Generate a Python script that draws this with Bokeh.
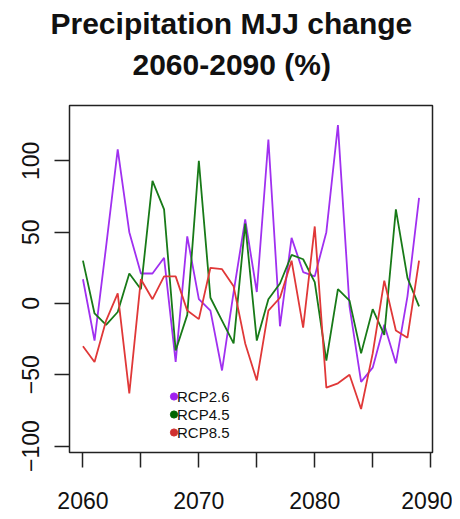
from bokeh.plotting import figure
from bokeh.models import Range1d, FixedTicker, Legend, LegendItem, Title
from bokeh.embed import file_html
from bokeh.resources import INLINE

# ---- data ----
years = list(range(2060, 2090))
rcp26 = [17, -26, 40, 108, 50, 21, 21, 32, -41, 47, 3, -5, -47, 8, 59,
         8, 115, -16, 46, 22, 19, 50, 125, -2, -55, -45, -15, -42, 5, 74]
rcp45 = [30, -7, -15, -6, 21, 10, 86, 66, -33, -8, 100, 4, -12, -28, 56,
         -26, 3, 14, 34, 31, 15, -40, 10, 2, -35, -4, -22, 66, 18, -2]
rcp85 = [-30, -41, -12, 7, -63, 17, 3, 19, 19, -5, -11, 25, 24, 12, -28,
         -54, -5, 4, 30, -17, 54, -59, -56, -50, -74, -35, 16, -19, -24, 30]
series_names = ["RCP2.6", "RCP4.5", "RCP8.5"]
x_ticks = [2060, 2065, 2070, 2075, 2080, 2085, 2090]
x_tick_labels = {2065: "", 2075: "", 2085: ""}
y_ticks = [-100, -50, 0, 50, 100]
title_lines = ["Precipitation MJJ change", "2060-2090 (%)"]

colors = ["#A030F0", "#187A18", "#E03838"]
dot_colors = ["#A020F0", "#006400", "#D03030"]
FONT = "Liberation Sans"
NAN = float("nan")

p = figure(width=452, height=517, output_backend="svg", toolbar_location=None,
           x_range=Range1d(2058.84, 2090.16), y_range=Range1d(-104.5, 138.8),
           min_border_left=69, min_border_right=20, min_border_top=105,
           min_border_bottom=65)
p.title.visible = False
p.xgrid.visible = False
p.ygrid.visible = False
p.outline_line_color = "#222222"
p.outline_line_width = 1.5
p.background_fill_color = "white"
p.border_fill_color = "white"

for ax in (p.xaxis[0], p.yaxis[0]):
    ax.axis_line_color = None
    ax.major_tick_in = 0
    ax.major_tick_out = 15
    ax.major_tick_line_color = "#222222"
    ax.major_tick_line_width = 1.5
    ax.minor_tick_line_color = None
    ax.major_label_text_font = FONT
    ax.major_label_text_font_size = "23px"
    ax.major_label_text_color = "#111111"

p.xaxis.ticker = FixedTicker(ticks=x_ticks)
p.xaxis.major_label_overrides = x_tick_labels
p.xaxis.major_label_standoff = 24
p.yaxis.ticker = FixedTicker(ticks=y_ticks)
p.yaxis.major_label_orientation = "vertical"
p.yaxis.major_label_standoff = 15

dot_items, text_items = [], []
for vals, c, dc, name in zip([rcp26, rcp45, rcp85], colors, dot_colors, series_names):
    p.line(years, vals, line_color=c, line_width=1.8)
    r_dot = p.scatter(x=[NAN], y=[NAN], marker="circle", size=8, fill_color=dc, line_color=dc)
    r_txt = p.line(x=[NAN], y=[NAN], line_alpha=0)
    dot_items.append(LegendItem(label=" ", renderers=[r_dot]))
    text_items.append(LegendItem(label=name, renderers=[r_txt]))

common = dict(orientation="vertical", background_fill_alpha=0, border_line_alpha=0,
              padding=0, margin=0, spacing=0, glyph_height=18, label_height=14,
              label_text_font=FONT, label_text_font_size="15px", label_text_color="#111111")
# coloured dots
p.add_layout(Legend(items=dot_items, location=(94, 11), glyph_width=21,
                    label_standoff=0, **common), "center")
# labels right next to the dots
p.add_layout(Legend(items=text_items, location=(107, 11), glyph_width=1,
                    label_standoff=0, **common), "center")

# title: spacer nearest to the frame, then line 2, then line 1
p.add_layout(Title(text=" ", text_font_size="1px", standoff=19), "above")
offsets = [-19, 63]
for t, off in reversed(list(zip(title_lines, offsets))):
    p.add_layout(Title(text=t, align="left", offset=off, standoff=6,
                       text_font=FONT, text_font_style="bold", text_font_size="30px",
                       text_color="#111111"), "above")

open("out.html", "w").write(file_html(p, INLINE))
